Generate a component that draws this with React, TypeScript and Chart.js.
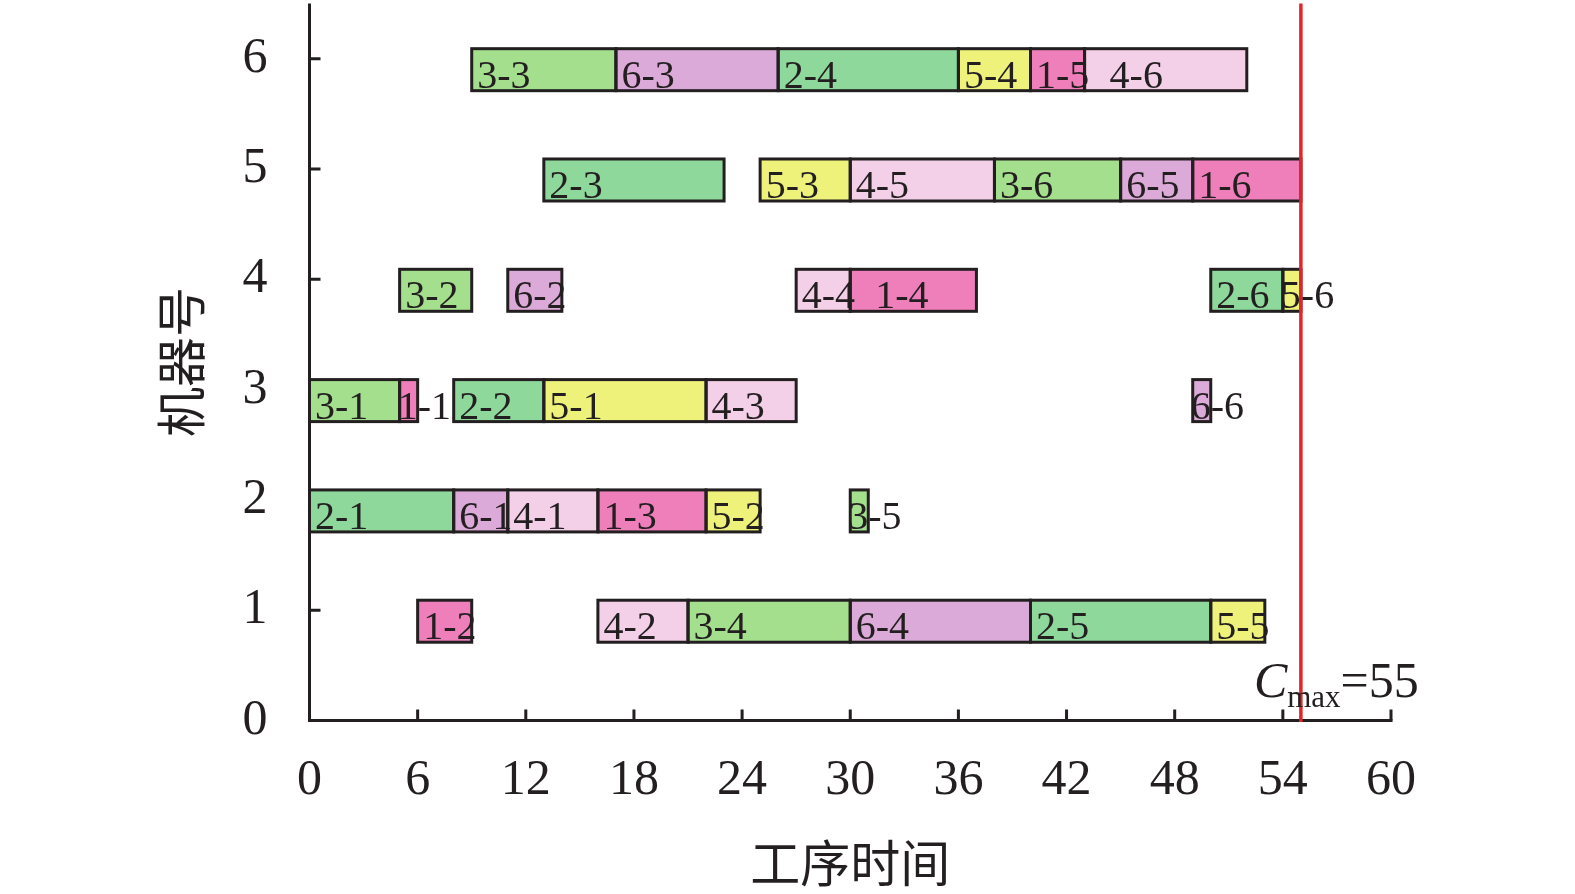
import React, { useEffect, useRef } from 'react';
import { Chart, registerables } from 'chart.js';

Chart.register(...registerables);

// ---- data ----
const JOB_NAMES = ['1', '2', '3', '4', '5', '6'];
const JOB_COLORS = ['#ef7fba', '#8ed89c', '#a4df8e', '#f4cfe8', '#eef27a', '#dcaad8'];

const JOB1_MACHINE = [3, 1, 2, 4, 6, 5];
const JOB1_START = [5, 6, 16, 30, 40, 49];
const JOB1_END = [6, 9, 22, 37, 43, 55];

const JOB2_MACHINE = [2, 3, 5, 6, 1, 4];
const JOB2_START = [0, 8, 13, 26, 40, 50];
const JOB2_END = [8, 13, 23, 36, 50, 54];

const JOB3_MACHINE = [3, 4, 6, 1, 2, 5];
const JOB3_START = [0, 5, 9, 21, 30, 38];
const JOB3_END = [5, 9, 17, 30, 31, 45];

const JOB4_MACHINE = [2, 1, 3, 4, 5, 6];
const JOB4_START = [11, 16, 22, 27, 30, 43];
const JOB4_END = [16, 21, 27, 30, 38, 52];

const JOB5_MACHINE = [3, 2, 5, 6, 1, 4];
const JOB5_START = [13, 22, 25, 36, 50, 54];
const JOB5_END = [22, 25, 30, 40, 53, 55];

const JOB6_MACHINE = [2, 4, 6, 1, 5, 3];
const JOB6_START = [8, 11, 17, 30, 45, 49];
const JOB6_END = [11, 14, 26, 40, 49, 50];

const X_TICKS = [0, 6, 12, 18, 24, 30, 36, 42, 48, 54, 60];
const Y_TICKS = [0, 1, 2, 3, 4, 5, 6];
const CMAX = 55;
const X_TITLE = '工序时间';
const Y_TITLE = '机器号';
// labels that the original pushed right, after a neighbour's overflowing label
const INDENTED_LABELS = ['1-4', '4-6'];

// ---- styling ----
const INK = '#231f20';
const SERIF = '"Liberation Serif", "Times New Roman", serif';
const CJK = '"Noto Sans CJK SC", sans-serif';
const BAR_SHIFT = -0.1;

const JOBS = [
  { m: JOB1_MACHINE, s: JOB1_START, e: JOB1_END },
  { m: JOB2_MACHINE, s: JOB2_START, e: JOB2_END },
  { m: JOB3_MACHINE, s: JOB3_START, e: JOB3_END },
  { m: JOB4_MACHINE, s: JOB4_START, e: JOB4_END },
  { m: JOB5_MACHINE, s: JOB5_START, e: JOB5_END },
  { m: JOB6_MACHINE, s: JOB6_START, e: JOB6_END },
];

const ganttPlugin = {
  id: 'ganttDecor',
  beforeDatasetsDraw(chart: any) {
    const ctx = chart.ctx as CanvasRenderingContext2D;
    const { left, bottom } = chart.chartArea;
    const xs = chart.scales.x;
    const ys = chart.scales.y;
    ctx.save();
    ctx.lineWidth = 3;
    ctx.lineCap = 'butt';
    ctx.strokeStyle = INK;
    ctx.beginPath();
    Y_TICKS.forEach((v) => {
      if (v === 0) return;
      const py = ys.getPixelForValue(v);
      ctx.moveTo(left, py);
      ctx.lineTo(left + 11, py);
    });
    X_TICKS.forEach((v) => {
      if (v === 0) return;
      const px = xs.getPixelForValue(v);
      ctx.moveTo(px, bottom);
      ctx.lineTo(px, bottom - 11);
    });
    ctx.stroke();
    ctx.restore();
  },
  afterDatasetsDraw(chart: any) {
    const ctx = chart.ctx as CanvasRenderingContext2D;
    const { left, right, top, bottom } = chart.chartArea;
    const xs = chart.scales.x;
    const ys = chart.scales.y;
    const unit = xs.getPixelForValue(1) - xs.getPixelForValue(0);
    ctx.save();

    const boxes: any[] = [];
    chart.data.datasets.forEach((ds: any, di: number) => {
      const meta = chart.getDatasetMeta(di);
      meta.data.forEach((el: any, i: number) => {
        const p = el.getProps(['x', 'y', 'base', 'height'], true);
        const l = Math.min(p.x, p.base);
        const w = Math.abs(p.x - p.base);
        boxes.push({ l, w, y: p.y, h: p.height, label: ds.data[i].label });
      });
    });

    // borders
    ctx.lineWidth = 3;
    ctx.strokeStyle = INK;
    boxes.forEach((b) => ctx.strokeRect(b.l, b.y - b.h / 2, b.w, b.h));

    // labels
    ctx.font = `40px ${SERIF}`;
    ctx.fillStyle = INK;
    ctx.textAlign = 'left';
    ctx.textBaseline = 'alphabetic';
    boxes.forEach((b) => {
      let off = 5.5;
      if (b.w < unit * 1.5) off = -2;
      if (INDENTED_LABELS.includes(b.label)) off = 25;
      ctx.fillText(b.label, b.l + off, b.y + 18);
    });

    // axes
    ctx.lineWidth = 3;
    ctx.lineCap = 'butt';
    ctx.strokeStyle = INK;
    ctx.beginPath();
    ctx.moveTo(left, top);
    ctx.lineTo(left, bottom + 1.5);
    ctx.moveTo(left - 1.5, bottom);
    ctx.lineTo(right + 1.5, bottom);
    ctx.stroke();

    // Cmax line
    const cx = xs.getPixelForValue(CMAX);
    ctx.strokeStyle = '#e0262b';
    ctx.lineWidth = 3.5;
    ctx.beginPath();
    ctx.moveTo(cx, top);
    ctx.lineTo(cx, bottom + 1.5);
    ctx.stroke();

    // Cmax text
    const base = ys.getPixelForValue(0) - 23.5;
    let tx = cx - 47;
    ctx.fillStyle = INK;
    ctx.font = `italic 50px ${SERIF}`;
    ctx.fillText('C', tx, base);
    tx += ctx.measureText('C').width;
    ctx.font = `31px ${SERIF}`;
    ctx.fillText('max', tx, base + 10);
    tx += ctx.measureText('max').width;
    ctx.font = `50px ${SERIF}`;
    ctx.fillText('=' + String(CMAX), tx, base);

    ctx.restore();
  },
};

export default function App() {
  const ref = useRef<HTMLCanvasElement | null>(null);

  useEffect(() => {
    if (!ref.current) return;
    const datasets = JOBS.map((j, ji) => ({
      label: JOB_NAMES[ji],
      data: j.m.map((m, i) => ({
        x: [j.s[i], j.e[i]],
        y: m + BAR_SHIFT,
        label: `${JOB_NAMES[ji]}-${i + 1}`,
      })),
      backgroundColor: JOB_COLORS[ji],
      borderWidth: 0,
      grouped: false,
      barPercentage: 1,
      categoryPercentage: 1,
      maxBarThickness: 42,
    }));

    const chart = new Chart(ref.current, {
      type: 'bar',
      data: { datasets: datasets as any },
      options: {
        animation: false,
        responsive: false,
        indexAxis: 'y',
        layout: { padding: { top: 3.5, right: 184, bottom: 0, left: 0 } },
        plugins: { legend: { display: false }, tooltip: { enabled: false } },
        scales: {
          x: {
            type: 'linear',
            min: 0,
            max: 60,
            offset: false,
            grid: { display: false, drawTicks: false, offset: false },
            border: { display: false },
            afterBuildTicks: (s: any) => {
              s.ticks = X_TICKS.map((v) => ({ value: v }));
            },
            afterFit: (s: any) => {
              s.height = 173.5;
              s.paddingLeft = 0;
              s.paddingRight = 0;
            },
            ticks: {
              padding: 30,
              color: INK,
              maxRotation: 0,
              autoSkip: false,
              font: { family: SERIF, size: 50 },
            },
            title: {
              display: true,
              text: X_TITLE,
              color: INK,
              font: { family: CJK, size: 50 },
              padding: { top: 0, bottom: 1 },
            },
          },
          y: {
            type: 'linear',
            min: 0,
            max: 6.5,
            offset: false,
            grid: { display: false, drawTicks: false, offset: false },
            border: { display: false },
            afterBuildTicks: (s: any) => {
              s.ticks = Y_TICKS.map((v) => ({ value: v }));
            },
            afterFit: (s: any) => {
              s.width = 309.5;
              s.paddingTop = 0;
              s.paddingBottom = 0;
            },
            ticks: {
              padding: 42,
              color: INK,
              autoSkip: false,
              font: { family: SERIF, size: 50 },
            },
            title: {
              display: true,
              text: Y_TITLE,
              color: INK,
              font: { family: CJK, size: 50 },
              padding: { top: 151, bottom: 0 },
            },
          },
        },
      },
      plugins: [ganttPlugin],
    });
    return () => chart.destroy();
  }, []);

  return (
    <div style={{ position: 'fixed', left: 0, top: 0, width: 1575, height: 894, background: '#fff' }}>
      <canvas ref={ref} width={1575} height={894} style={{ width: 1575, height: 894, display: 'block' }} />
    </div>
  );
}
